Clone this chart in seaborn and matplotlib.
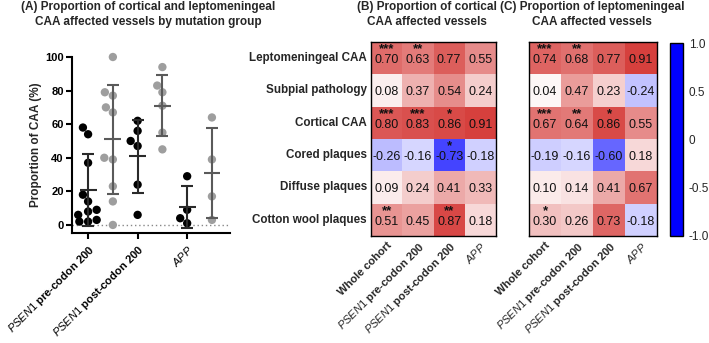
import numpy as np
import pandas as pd
import matplotlib
matplotlib.use("Agg")
import matplotlib.pyplot as plt
import seaborn as sns
from matplotlib.colors import LinearSegmentedColormap, ListedColormap, Normalize
from matplotlib.cm import ScalarMappable

sns.set_theme(style="white")
plt.rcParams["font.family"] = ["Liberation Sans", "DejaVu Sans"]
plt.rcParams["mathtext.fontset"] = "custom"
plt.rcParams["mathtext.it"] = "Liberation Sans:italic"
plt.rcParams["mathtext.rm"] = "Liberation Sans"
plt.rcParams["mathtext.bf"] = "Liberation Sans:bold"

# ---------------- Panel A data ----------------
group_keys = ["pre_cortical", "pre_lepto", "post_cortical", "post_lepto", "app_cortical", "app_lepto"]
pre_cortical = [58, 54, 37, 18, 14, 9, 8, 6, 3, 2, 2]
pre_lepto = [100, 79, 77, 70, 67, 40, 39, 23, 14, 0]
post_cortical = [62, 56, 50, 47, 24, 6]
post_lepto = [94, 83, 79, 71, 55, 45]
app_cortical = [29, 9, 4, 1]
app_lepto = [64, 39, 17, 3]
group_means = [20.8, 50.9, 40.8, 71.1, 10.7, 30.9]
group_sds = [21.2, 32.7, 21.9, 18.3, 12.7, 26.8]
a_tick_labels = [r"$\mathit{PSEN1}$ pre-codon 200", r"$\mathit{PSEN1}$ post-codon 200", r"$\mathit{APP}$"]
a_yticks = [0, 20, 40, 60, 80, 100]

# ---------------- Heatmap data ----------------
row_labels = ["Leptomeningeal CAA", "Subpial pathology", "Cortical CAA",
              "Cored plaques", "Diffuse plaques", "Cotton wool plaques"]
col_labels = ["Whole cohort", r"$\mathit{PSEN1}$ pre-codon 200",
              r"$\mathit{PSEN1}$ post-codon 200", r"$\mathit{APP}$"]
corr_cortical = [
    [0.70, 0.63, 0.77, 0.55],
    [0.08, 0.37, 0.54, 0.24],
    [0.80, 0.83, 0.86, 0.91],
    [-0.26, -0.16, -0.73, -0.18],
    [0.09, 0.24, 0.41, 0.33],
    [0.51, 0.45, 0.87, 0.18],
]
stars_cortical = [
    ["***", "**", "", ""],
    ["", "", "", ""],
    ["***", "***", "*", ""],
    ["", "", "*", ""],
    ["", "", "", ""],
    ["**", "", "**", ""],
]
corr_lepto = [
    [0.74, 0.68, 0.77, 0.91],
    [0.04, 0.47, 0.23, -0.24],
    [0.67, 0.64, 0.86, 0.55],
    [-0.19, -0.16, -0.60, 0.18],
    [0.10, 0.14, 0.41, 0.67],
    [0.30, 0.26, 0.73, -0.18],
]
stars_lepto = [
    ["***", "**", "", ""],
    ["", "", "", ""],
    ["***", "**", "*", ""],
    ["", "", "", ""],
    ["", "", "", ""],
    ["*", "", "", ""],
]
cbar_ticks = [1.0, 0.5, 0.0, -0.5, -1.0]
cbar_ticklabels = ["1.0", "0.5", "0", "-0.5", "-1.0"]

# ---------------- Figure ----------------
W, H = 709, 343
fig = plt.figure(figsize=(W / 100, H / 100), dpi=100)
fig.patch.set_facecolor("white")


def px_axes(l, t, r, b):
    return fig.add_axes([l / W, 1 - b / H, (r - l) / W, (b - t) / H])


# ---- Panel A ----
axA = px_axes(72, 57, 230, 233)
data_lists = [pre_cortical, pre_lepto, post_cortical, post_lepto, app_cortical, app_lepto]
rows = []
for k, vals in zip(group_keys, data_lists):
    for v in vals:
        rows.append({"group": k, "value": v})
dfA = pd.DataFrame(rows)
colors = ["black", "#9e9e9e", "black", "#9e9e9e", "black", "#9e9e9e"]
bar_colors = ["#2a2a2a", "#5a5a5a", "#2a2a2a", "#5a5a5a", "#2a2a2a", "#5a5a5a"]
sns.swarmplot(data=dfA, x="group", y="value", hue="group", order=group_keys,
              hue_order=group_keys, palette=colors, size=6.0, linewidth=0,
              legend=False, ax=axA, zorder=2)
for coll in axA.collections:
    coll.set_clip_on(False)
for i, (m, s) in enumerate(zip(group_means, group_sds)):
    axA.errorbar(i, m, yerr=s, fmt="none", ecolor=bar_colors[i], elinewidth=1.5,
                 capsize=4.2, capthick=1.5, zorder=3, clip_on=False)
    axA.hlines(m, i - 0.34, i + 0.34, color=bar_colors[i], lw=1.5, zorder=3)
axA.axhline(0, color="#888888", lw=1, ls=(0, (1, 2)), zorder=1)
axA.set_xlim(-0.65, 5.73)
axA.set_ylim(-4.8, 100)
axA.set_yticks(a_yticks)
axA.set_yticklabels([str(t) for t in a_yticks], fontsize=8, fontweight="bold")
axA.set_xticks([0, 2, 4])
axA.set_xticklabels(a_tick_labels, rotation=45, ha="right", va="top",
                    rotation_mode="anchor", fontsize=8, fontweight="bold")
axA.set_xlabel("")
axA.set_ylabel("Proportion of CAA (%)", fontsize=8.5, fontweight="bold", labelpad=2)
for side in ["top", "right"]:
    axA.spines[side].set_visible(False)
for side in ["left", "bottom"]:
    axA.spines[side].set_color("black")
    axA.spines[side].set_linewidth(1.5)
axA.tick_params(axis="both", which="both", direction="out", length=4, width=1.5,
                color="black", labelcolor="black", pad=2,
                left=True, bottom=True)
axA.tick_params(axis="x", pad=3)
axA.grid(False)

# ---- Heatmaps ----
cmap = LinearSegmentedColormap.from_list("bwr_custom", ["#0000FF", "#FFFFFF", "#D22E2B"])


def draw_heat(ax, values, stars, show_rows):
    df = pd.DataFrame(values, index=row_labels, columns=col_labels)
    annot = np.array([[f"{v:.2f}" for v in r] for r in values])
    sns.heatmap(df, ax=ax, cmap=cmap, vmin=-1, vmax=1, cbar=False, annot=annot, fmt="",
                annot_kws={"fontsize": 9, "color": "#111111"}, linewidths=0)
    for t in ax.texts:
        x, y = t.get_position()
        t.set_position((x, y + 0.06))
    for i, r in enumerate(stars):
        for j, s in enumerate(r):
            if s:
                ax.text(j + 0.5, i + 0.05, s, ha="center", va="top", fontsize=9.5,
                        fontweight="bold", color="#111111")
    for sp in ax.spines.values():
        sp.set_visible(True)
        sp.set_color("black")
        sp.set_linewidth(1.0)
    ax.tick_params(length=0, pad=3)
    ax.tick_params(axis="x", pad=3)
    ax.set_xticklabels(col_labels, rotation=45, ha="right", va="top",
                       rotation_mode="anchor", fontsize=8, fontweight="bold")
    if show_rows:
        ax.set_yticklabels(row_labels, rotation=0, fontsize=8.4, fontweight="bold")
    else:
        ax.set_yticklabels([])
    ax.set_xlabel("")
    ax.set_ylabel("")


axB = px_axes(371, 42, 496, 236)
draw_heat(axB, corr_cortical, stars_cortical, True)
axC = px_axes(529, 42, 657, 236)
draw_heat(axC, corr_lepto, stars_lepto, False)

# Colorbar (drawn solid blue as in the reference)
cax = px_axes(670, 43, 683, 236)
sm = ScalarMappable(norm=Normalize(-1, 1), cmap=ListedColormap(["#0000FF"]))
cb = fig.colorbar(sm, cax=cax, ticks=cbar_ticks)
cb.set_ticklabels(cbar_ticklabels)
cb.ax.tick_params(length=0, labelsize=8.5, pad=4)
cb.outline.set_edgecolor("black")
cb.outline.set_linewidth(1.0)

# ---- Titles ----
title_kw = dict(fontsize=8.5, fontweight="bold", ha="center", va="top",
                multialignment="center", linespacing=1.35)
fig.text(148 / W, 1 - 1 / H,
         "(A) Proportion of cortical and leptomeningeal\nCAA affected vessels by mutation group",
         **title_kw)
fig.text(427 / W, 1 - 1 / H, "(B) Proportion of cortical\nCAA affected vessels", **title_kw)
fig.text(592 / W, 1 - 1 / H, "(C) Proportion of leptomeningeal\nCAA affected vessels", **title_kw)

fig.savefig("out.png", dpi=100, facecolor="white")
